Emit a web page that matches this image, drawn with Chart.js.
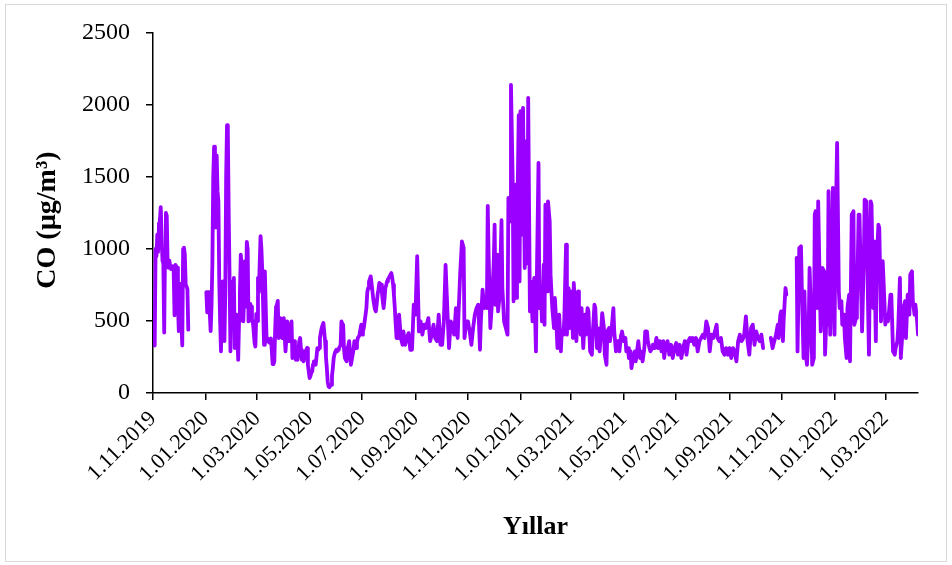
<!DOCTYPE html>
<html lang="tr">
<head>
<meta charset="UTF-8">
<title>CO</title>
<script src="https://cdn.jsdelivr.net/npm/chart.js"></script>
<style>
  body { margin: 0; background: #fff; }
  #wrap { position: relative; width: 952px; height: 565px; }
  #frame { position: absolute; left: 5px; top: 4px; width: 940px; height: 556px; border: 1px solid #d9d9d9; pointer-events: none; }
</style>
</head>
<body>
<div id="wrap">
  <canvas id="coChart" width="952" height="565"></canvas>
  <div id="frame"></div>
</div>
<script>
// days counted from 1.11.2019, null = no measurement
const days = [
  0, 1, 2, 3, 4, 5, 6, 7, 8, 9, 10, 11, 12, 13, 14, 15, 16, 17, 18, 19, 20,
  21, 22, 23, 24, 25, 26, 27, 28, 29, 30, 31, 32, 33, 34, 35, 36, 37, 38, 39, 40, 41,
  50,
  62, 63, 64, 65, 66, 67, 68, 69, 70, 71, 72, 73, 74, 75, 76, 77, 78, 79, 80, 81,
  82, 83, 84, 85, 86, 87, 88, 89, 90, 91, 92, 93, 94, 95, 96, 97, 98, 99, 100, 101,
  102, 103, 104, 105, 106, 107, 108, 109, 110, 111, 112, 113, 114, 115, 116, 117, 118, 119, 120, 121,
  122, 123, 124, 125, 126, 127, 128, 129, 130, 131, 132, 133, 134, 135, 136, 137, 138, 139, 140, 141,
  142, 143, 144, 145, 146, 147, 148, 149, 150, 151, 152, 153, 154, 155, 156, 157, 158, 159, 160, 161,
  162, 163, 164, 165, 166, 167, 168, 169, 170, 171, 172, 173, 174, 175, 176, 177, 178, 179, 180, 181,
  182, 183, 184, 185, 186, 187, 188, 189, 190, 191, 192, 193, 194, 195, 196, 197, 198, 199, 200, 201,
  202, 203, 204, 205, 206, 207, 208, 209, 210, 211, 212, 213, 214, 215, 216, 217, 218, 219, 220, 221,
  222, 223, 224, 225, 226, 227, 228, 229, 230, 231, 232, 233, 234, 235, 236, 237, 238, 239, 240, 241,
  242, 243, 244, 245, 246, 247, 248, 249, 250, 251, 252, 253, 254, 255, 256, 257, 258, 259, 260, 261,
  262, 263, 264, 265, 266, 267, 268, 269, 270, 271, 272, 273, 274, 275, 276, 277, 278, 279, 280, 281,
  282, 283, 284, 285, 286, 288, 290, 291, 293, 295, 297, 299, 301, 303, 305, 307, 309, 311, 313, 315,
  317, 319, 320, 322, 324, 326, 328, 330, 332, 334, 336, 338, 340, 342, 344, 346, 348, 350, 352, 354,
  355, 357, 359, 361, 362, 364, 366, 368, 370, 372, 374, 376, 378, 380, 381, 383, 385, 386, 388, 389,
  390, 392, 394, 396, 397, 398, 400, 401, 403, 405, 406, 408, 410, 412, 413, 415, 416, 418, 419, 421,
  422, 423, 425, 426, 427, 428, 430, 432, 434, 435, 436, 438, 439, 441, 443, 445, 446, 448, 449, 451,
  452, 454, 455, 456, 458, 459, 461, 462, 464, 466, 467, 469, 470, 472, 474, 475, 477, 478, 480, 481,
  483, 484, 486, 488, 489, 491, 492, 494, 495, 497, 498, 500, 502, 503, 505, 506, 508, 510, 511, 513,
  514, 516, 517, 519, 520, 522, 524, 525, 527, 528, 530, 531, 533, 535, 536, 538, 539, 541, 542, 544,
  545, 547, 549, 550, 552, 553, 555, 556, 558, 560, 561, 563, 564, 566, 567, 569, 571, 572, 574, 575,
  577, 578, 580, 581, 583, 585, 587, 589, 591, 593, 594, 596, 598, 600, 602, 604, 606, 608, 610, 612,
  614, 616, 618, 620, 622, 624, 625, 627, 629, 631, 633, 635, 637, 639, 641, 643, 645, 647, 649, 651,
  653, 655, 656, 658, 660, 662, 664, 666, 668, 670, 672, 674, 676, 678, 680, 682, 684, 686, 687, 689,
  691, 693, 695, 697, 699, 701, 703, 705, 707, 709,
  713,
  718, 720, 722, 724, 726, 727, 729, 730, 732, 733, 735, 736,
  742,
  748, 749, 751, 753, 754, 756, 757, 759, 760, 762, 763, 765, 766, 768, 769, 770, 772, 773, 775, 776,
  778, 780, 781, 783, 784, 785, 787, 789, 790, 792, 793, 795, 797, 798, 800, 801, 803, 804, 806, 807,
  809, 810, 812, 814, 815, 817, 818, 820, 821, 823, 824, 826, 827, 829, 831, 832, 834, 835, 837, 838,
  840, 841, 843, 844, 846, 848, 849, 851, 852, 854, 855, 857, 858, 860, 862, 863, 865, 866, 868, 869,
  871, 872, 874, 875, 877, 879, 880, 882, 883, 885, 886, 888, 889
];

const co = [
  450, 340, 330, 1000, 950, 1100, 980, 1180, 1200, 1290, 1100, 920, 900, 420, 1000, 1250, 1230, 900, 870, 920, 880,
  860, 870, 880, 850, 540, 890, 880, 870, 600, 430, 760, 600, 480, 330, 1000, 1010, 960, 750, 740, 720, 440,
  null,
  700, 560, 700, 690, 550, 430, 600, 900, 1500, 1710, 1650, 1150, 1650, 1400, 1330, 775, 500, 290, 600, 775,
  500, 360, 700, 1500, 1860, 1800, 1240, 800, 290, 775, 600, 500, 800, 312, 500, 544, 400, 230, 500, 700,
  960, 900, 600, 497, 700, 915, 600, 1050, 1000, 497, 600, 620, 600, 500, 500, 428, 350, 323, 550, 500,
  800, 700, 900, 1090, 1000, 845, 600, 335, 845, 600, 360, 380, 360, 350, 360, 380, 300, 200, 200, 220,
  450, 600, 613, 640, 382, 450, 520, 420, 382, 450, 520, 400, 289, 380, 497, 420, 360, 400, 450, 497,
  243, 300, 360, 300, 231, 260, 231, 300, 360, 382, 300, 231, 250, 220, 260, 289, 300, 312, 196, 150,
  104, 120, 140, 150, 200, 220, 200, 196, 250, 312, 300, 312, 382, 420, 451, 470, 486, 420, 360, 250,
  173, 80, 46, 40, 50, 57, 120, 173, 243, 270, 289, 300, 289, 300, 312, 320, 335, 497, 480, 474,
  300, 243, 230, 220, 312, 330, 360, 280, 196, 230, 266, 300, 360, 330, 312, 350, 382, 390, 405, 440,
  474, 405, 430, 451, 500, 544, 590, 700, 729, 775, 790, 810, 760, 706, 650, 613, 580, 567, 620, 683,
  720, 764, 760, 752, 700, 637, 590, 650, 729, 750, 775, 790, 799, 810, 822, 833, 800, 752, 680, 590,
  480, 382, 390, 382, 544, 382, 335, 428, 335, 382, 416, 300, 300, 613, 544, 950, 428, 497, 405, 474,
  451, 497, 520, 360, 405, 474, 382, 360, 544, 335, 335, 497, 890, 590, 312, 497, 474, 405, 590, 382,
  544, 833, 1053, 1007, 382, 497, 497, 428, 335, 451, 544, 590, 613, 300, 497, 718, 590, 613, 590, 1300,
  961, 451, 637, 915, 1169, 613, 961, 567, 683, 1200, 729, 497, 451, 405, 1355, 1192, 2140, 1471, 637, 1447,
  660, 1053, 1930, 775, 1957, 1100, 1980, 868, 1749, 900, 2050, 567, 775, 497, 799, 289, 775, 1598, 590, 706,
  497, 891, 474, 1308, 706, 1331, 1192, 822, 590, 451, 660, 451, 312, 544, 289, 428, 405, 520, 1030, 405,
  729, 451, 706, 382, 764, 544, 360, 706, 613, 405, 590, 312, 544, 405, 590, 567, 289, 266, 405, 613,
  590, 312, 451, 289, 360, 555, 451, 266, 196, 428, 451, 360, 451, 590, 428, 289, 360, 360, 289, 405,
  428, 360, 382, 289, 312, 243, 289, 173, 243, 289, 220, 312, 360, 243, 289, 220, 312, 428, 428, 360,
  312, 289, 312, 335, 312, 382, 312, 360, 289, 360, 243, 335, 360, 266, 335, 243, 312, 347, 266, 335,
  243, 312, 360, 266, 360, 382, 360, 382, 335, 382, 289, 360, 382, 405, 382, 497, 451, 289, 405, 382,
  428, 474, 382, 360, 382, 289, 266, 312, 266, 312, 243, 312, 289, 220, 360, 405, 360, 382, 405, 532,
  360, 266, 451, 474, 335, 428, 382, 360, 405, 312,
  null,
  382, 312, 360, 405, 474, 382, 544, 567, 360, 520, 729, 683,
  null,
  938, 289, 1007, 1019, 729, 243, 706, 243, 196, 451, 868, 497, 196, 243, 1239, 1262, 590, 1331, 683, 428,
  868, 845, 266, 590, 474, 1401, 405, 891, 1424, 405, 1053, 1737, 706, 590, 637, 474, 544, 382, 243, 590,
  683, 220, 1239, 1262, 474, 520, 590, 1239, 1239, 683, 428, 915, 1343, 1331, 590, 266, 1331, 1308, 590, 1053,
  360, 915, 1169, 1146, 497, 915, 775, 475, 544, 497, 544, 683, 683, 289, 266, 312, 360, 451, 799, 243,
  428, 590, 637, 382, 683, 544, 822, 845, 637, 544, 613, 497, 405
];

const tickDays = [0, 61, 121, 182, 243, 305, 366, 427, 486, 547, 608, 670, 731, 792, 851];
const tickLabels = ['1.11.2019', '1.01.2020', '1.03.2020', '1.05.2020', '1.07.2020', '1.09.2020', '1.11.2020',
  '1.01.2021', '1.03.2021', '1.05.2021', '1.07.2021', '1.09.2021', '1.11.2021', '1.01.2022', '1.03.2022'];

const points = days.map((d, i) => ({ x: d, y: co[i] }));
const serif = "'Liberation Serif', 'Times New Roman', serif";

new Chart(document.getElementById('coChart'), {
  type: 'line',
  data: {
    datasets: [{
      data: points,
      borderColor: '#9900ff',
      borderWidth: 3.8,
      borderJoinStyle: 'round',
      borderCapStyle: 'round',
      pointRadius: 0,
      tension: 0,
      spanGaps: false
    }]
  },
  options: {
    responsive: false,
    animation: false,
    layout: { padding: { left: 29, right: 34, top: 33, bottom: 22 } },
    plugins: { legend: { display: false }, tooltip: { enabled: false } },
    scales: {
      x: {
        type: 'linear',
        min: 0,
        max: 889,
        afterBuildTicks: (s) => { s.ticks = tickDays.map(v => ({ value: v })); },
        afterFit: (s) => { s.height = 150; },
        grid: { drawOnChartArea: false, drawTicks: true, tickLength: 7, color: '#000', lineWidth: 1.5 },
        border: { display: true, color: '#000', width: 1.5 },
        ticks: {
          autoSkip: false,
          minRotation: 45,
          maxRotation: 45,
          padding: 6,
          color: '#000',
          font: { family: serif, size: 22 },
          callback: (v, i) => tickLabels[i]
        },
        title: {
          display: true,
          text: 'Yıllar',
          color: '#000',
          font: { family: serif, size: 26, weight: 'bold' },
          padding: { top: 0, bottom: 0 }
        }
      },
      y: {
        min: 0,
        max: 2500,
        afterFit: (s) => { s.width = 124; },
        grid: { drawOnChartArea: false, drawTicks: true, tickLength: 7, color: '#000', lineWidth: 1.5 },
        border: { display: true, color: '#000', width: 1.5 },
        ticks: {
          stepSize: 500,
          padding: 16,
          color: '#000',
          font: { family: serif, size: 24 },
          callback: (v) => String(v)
        },
        title: {
          display: true,
          text: 'CO (µg/m³)\u2002',
          color: '#000',
          font: { family: serif, size: 28, weight: 'bold' },
          padding: { top: 2, bottom: 0 }
        }
      }
    }
  }
});
</script>
</body>
</html>
